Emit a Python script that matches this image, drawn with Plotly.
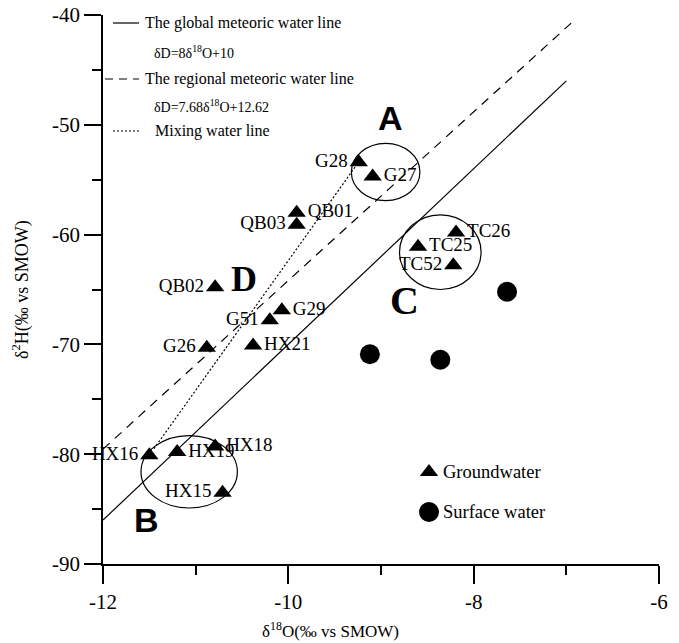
import plotly.graph_objects as go

# ---- data ----
gw_names = ["G28", "G27", "QB01", "QB03", "QB02", "G29", "G51", "HX21", "G26",
            "TC26", "TC25", "TC52", "HX16", "HX19", "HX18", "HX15"]
gw_d18o = [-9.24, -9.09, -9.91, -9.91, -10.79, -10.07, -10.20, -10.38, -10.88,
           -8.19, -8.60, -8.22, -11.50, -11.20, -10.79, -10.71]
gw_d2h = [-53.4, -54.7, -58.0, -59.1, -64.8, -66.9, -67.8, -70.1, -70.3,
          -59.8, -61.1, -62.8, -80.1, -79.8, -79.3, -83.5]
gw_textpos = ["middle left", "middle right", "middle right", "middle left", "middle left",
              "middle right", "middle left", "middle right", "middle left",
              "middle right", "middle right", "middle left", "middle left", "middle right",
              "middle right", "middle left"]

sw_d18o = [-9.12, -8.36, -7.64]
sw_d2h = [-70.9, -71.4, -65.2]

gmwl_x = [-12, -7]
gmwl_slope, gmwl_icpt = 8, 10
rmwl_x = [-12, -6.92]
rmwl_slope, rmwl_icpt = 7.68, 12.62
mix_x = [-11.45, -9.25]
mix_y = [-79.5, -53.5]

# group ellipses: name, center x, center y, half width, half height
groups = [("A", -8.95, -54.3, 0.37, 2.6),
          ("C", -8.36, -61.6, 0.44, 3.4),
          ("B", -11.07, -81.6, 0.52, 3.3)]

x_ticks = [-12, -10, -8, -6]
x_ticktext = ["-12", "-10", "-8", "-6"]
y_ticks = [-90, -80, -70, -60, -50, -40]
y_ticktext = ["-90", "-80", "-70", "-60", "-50", "-40"]

SERIF = "Liberation Serif, Times New Roman, serif"
SANS = "Liberation Sans, Arial, sans-serif"

fig = go.Figure()

fig.add_trace(go.Scatter(x=gmwl_x, y=[gmwl_slope * v + gmwl_icpt for v in gmwl_x],
                         mode="lines", line=dict(color="black", width=1.2), hoverinfo="skip"))
fig.add_trace(go.Scatter(x=rmwl_x, y=[rmwl_slope * v + rmwl_icpt for v in rmwl_x],
                         mode="lines", line=dict(color="black", width=1.2, dash="9px,7px"),
                         hoverinfo="skip"))
fig.add_trace(go.Scatter(x=mix_x, y=mix_y, mode="lines",
                         line=dict(color="black", width=1.2, dash="2px,2px"), hoverinfo="skip"))

fig.add_trace(go.Scatter(x=gw_d18o, y=gw_d2h, mode="markers+text", text=gw_names,
                         textposition=gw_textpos, cliponaxis=False,
                         textfont=dict(family=SERIF, size=19, color="black"),
                         marker=dict(symbol="triangle-up", size=16, color="black")))
fig.add_trace(go.Scatter(x=sw_d18o, y=sw_d2h, mode="markers",
                         marker=dict(symbol="circle", size=20, color="black")))

for name, cx, cy, rx, ry in groups:
    fig.add_shape(type="circle", xref="x", yref="y", x0=cx - rx, x1=cx + rx,
                  y0=cy - ry, y1=cy + ry, line=dict(color="black", width=1.2))

# page body adds an 8px offset; compensate so the plot area lands at screen (103..659, 15..564)
OFF = 8
W, H = 679, 643
PL, PT, PW, PH = 103, 15, 556, 549
L, T = PL - OFF, PT - OFF
R = W - L - PW
B = H - T - PH


def px(x):
    return (x - PL) / PW


def py(y):
    return 1 - (y - PT) / PH


def note(text, x, y, size, family=SERIF, xanchor="center", angle=0):
    fig.add_annotation(xref="paper", yref="paper", x=px(x), y=py(y), text=text,
                       showarrow=False, xanchor=xanchor, yanchor="middle", textangle=angle,
                       font=dict(family=family, size=size, color="black"))


# big group letters
letters = [("A", 390, 118, SANS, 34), ("B", 146, 520, SANS, 34),
           ("C", 404, 300, SERIF, 40), ("D", 244, 279, SERIF, 36)]
for t, x, y, f, s in letters:
    note("<b>%s</b>" % t, x, y, s, family=f)

# legend (top-left)
leg_lines = [(113, 139, 23, "solid"), (105, 139, 79, "8px,6px"), (113, 139, 131, "2px,2px")]
for x0, x1, y, d in leg_lines:
    fig.add_shape(type="line", xref="paper", yref="paper", x0=px(x0), x1=px(x1),
                  y0=py(y), y1=py(y), line=dict(color="black", width=1.2, dash=d))
leg_texts = [("The global meteoric water line", 143, 23, 16),
             ("δD=8δ<sup>18</sup>O+10", 152, 52, 14),
             ("The regional meteoric water line", 143, 79, 16),
             ("δD=7.68δ<sup>18</sup>O+12.62", 152, 106, 14),
             ("Mixing water line", 153, 131, 16)]
for t, x, y, s in leg_texts:
    note(t, x, y, s, xanchor="left")

# sample-type legend (bottom-right)
fig.add_trace(go.Scatter(x=[px(429)], y=[py(472)], xaxis="x2", yaxis="y2", mode="markers",
                         marker=dict(symbol="triangle-up", size=16, color="black"),
                         hoverinfo="skip"))
fig.add_trace(go.Scatter(x=[px(429)], y=[py(512)], xaxis="x2", yaxis="y2", mode="markers",
                         marker=dict(symbol="circle", size=20, color="black"), hoverinfo="skip"))
for t, y in [("Groundwater", 472), ("Surface water", 512)]:
    note(t, 441, y, 18.5, xanchor="left")

# axis titles
note("δ<sup>2</sup>H(‰ vs SMOW)", 21, 290, 18, angle=-90)
note("δ<sup>18</sup>O(‰ vs SMOW)", 330, 630, 17)

fig.update_layout(
    width=W, height=H, margin=dict(l=L, r=R, t=T, b=B, autoexpand=False),
    paper_bgcolor="white", plot_bgcolor="white", showlegend=False,
    font=dict(family=SERIF, color="black"),
    xaxis=dict(range=[-12, -6], tickvals=x_ticks, ticktext=x_ticktext, ticks="outside",
               ticklen=18, tickwidth=1.5, tickcolor="black", showline=True, linecolor="black",
               linewidth=1.5, showgrid=False, zeroline=False, automargin=False,
               ticklabeloverflow="allow",
               tickfont=dict(family=SERIF, size=21, color="black"),
               minor=dict(dtick=1, ticks="outside", ticklen=9, tickwidth=1.5,
                          tickcolor="black", showgrid=False)),
    yaxis=dict(range=[-90, -40], tickvals=y_ticks, ticktext=y_ticktext, ticks="outside",
               ticklen=17, tickwidth=1.5, tickcolor="black", showline=True, linecolor="black",
               linewidth=1.5, showgrid=False, zeroline=False, automargin=False,
               ticklabeloverflow="allow",
               tickfont=dict(family=SERIF, size=21, color="black"),
               minor=dict(dtick=5, ticks="outside", ticklen=9, tickwidth=1.5,
                          tickcolor="black", showgrid=False)),
    xaxis2=dict(range=[0, 1], visible=False, domain=[0, 1], anchor="y2", overlaying="x"),
    yaxis2=dict(range=[0, 1], visible=False, domain=[0, 1], anchor="x2", overlaying="y"),
)

fig.write_html("out.html")
